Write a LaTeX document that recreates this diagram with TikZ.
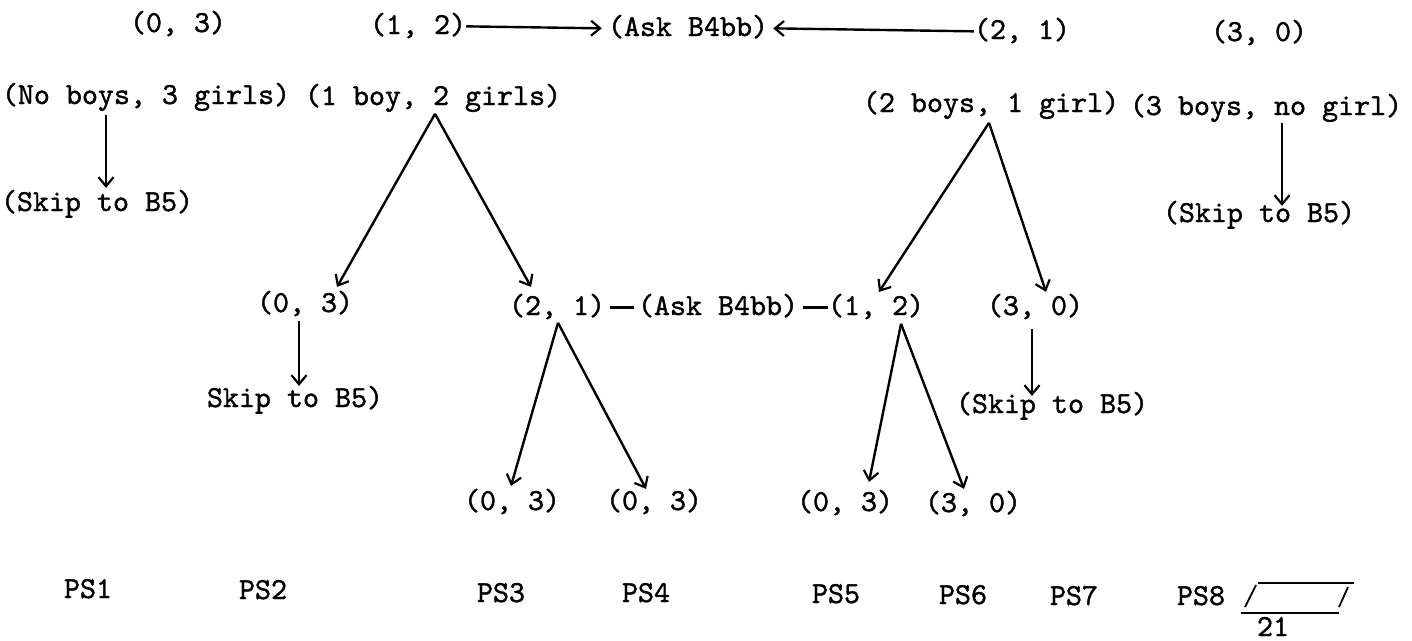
\documentclass[tikz,border=0pt]{standalone}
\usepackage{fontspec}
\usetikzlibrary{arrows.meta,calc}
\newfontfamily\typewriter[FakeBold=1.2]{lmmono10-regular.otf}
\begin{document}
\begin{tikzpicture}[x=1pt,y=-1pt,
  lbl/.style={inner sep=0pt, anchor=base, font=\typewriter\fontsize{30.5}{36}\selectfont,
              text height=22.9pt, text depth=7.6pt},
  arr/.style={line width=2.4pt, -{Straight Barb[length=9pt,width=15pt,line width=2.2pt]}},
  link/.style={line width=2.4pt},
  rule/.style={line width=1.8pt}]
\useasboundingbox (0,0) rectangle (1412,640);

% top row of pairs
\node[lbl] (ra) at (178,32) {(0, 3)};
\node[lbl] (rb) at (418,34) {(1, 2)};
\node[lbl] (ask1) at (688,36) {(Ask B4bb)};
\node[lbl] (rc) at (1022,39) {(2, 1)};
\node[lbl] (rd) at (1259,41) {(3, 0)};

% household compositions
\node[lbl] (nb) at (146,104) {(No boys, 3 girls)};
\node[lbl] (b1) at (433,105) {(1 boy, 2 girls)};
\node[lbl] (b2) at (991,112) {(2 boys, 1 girl)};
\node[lbl] (b3) at (1266,115) {(3 boys, no girl)};

\node[lbl] (skipA) at (97,211) {(Skip to B5)};
\node[lbl] (skipB) at (1259,222) {(Skip to B5)};

% second level
\node[lbl] (la) at (305,312) {(0, 3)};
\node[lbl] (lb) at (557,315) {(2, 1)};
\node[lbl] (ask2) at (718,315) {(Ask B4bb)};
\node[lbl] (lc) at (876,315) {(1, 2)};
\node[lbl] (ld) at (1035,315) {(3, 0)};

\node[lbl] (skipC) at (295,407) {Skip to B5)};
\node[lbl] (skipD) at (1052,413) {(Skip to B5)};

% third level
\node[lbl] (ma) at (512,510) {(0, 3)};
\node[lbl] (mb) at (654,510) {(0, 3)};
\node[lbl] (mc) at (845,511) {(0, 3)};
\node[lbl] (md) at (973,512) {(3, 0)};

% patterns
\node[lbl] (ps1) at (88,598) {PS1};
\node[lbl] (ps2) at (263,599) {PS2};
\node[lbl] (ps3) at (501,602) {PS3};
\node[lbl] (ps4) at (646,602) {PS4};
\node[lbl] (ps5) at (836,603) {PS5};
\node[lbl] (ps6) at (963,604) {PS6};
\node[lbl] (ps7) at (1074,605) {PS7};
\node[lbl] (ps8) at (1201,605) {PS8};
\node[lbl, text depth=0pt] (tot) at (1273,636) {21};

% answer box
\draw[rule] (1245,607) -- (1256,585);
\draw[rule] (1339,607) -- (1348,587);
\draw[rule] (1258,583) -- (1354,583);
\draw[rule] (1241,613) -- (1339,613);

% connectors, top row
\draw[arr] (rb.east) -- ([xshift=-6pt]ask1.west);
\draw[arr] (rc.west) -- ([xshift=5pt]ask1.east);

% skips from the end groups
\draw[arr] ([xshift=-40pt,yshift=-3pt]nb.south) -- ([xshift=9pt]skipA.north);
\draw[arr] ([xshift=16pt]b3.south) -- ([xshift=23pt,yshift=-7pt]skipB.north);

% first branching
\draw[arr] ([xshift=2pt,yshift=-1pt]b1.south) -- ([xshift=32pt,yshift=2pt]la.north);
\draw[arr] ([xshift=2pt,yshift=-1pt]b1.south) -- ([xshift=-26pt,yshift=5pt]lb.north);
\draw[arr] ([xshift=-2pt,yshift=-3pt]b2.south) -- ([xshift=3pt]lc.north);
\draw[arr] ([xshift=-2pt,yshift=-3pt]b2.south) -- ([xshift=11pt]ld.north);

% links to the second question
\draw[link] ([xshift=5pt]lb.east) -- ([xshift=-4pt]ask2.west);
\draw[link] ([xshift=5pt]ask2.east) -- (lc.west);

% second branching
\draw[arr] ([xshift=-6pt,yshift=-1pt]la.south) -- ([xshift=4pt,yshift=-2pt]skipC.north);
\draw[arr] ([xshift=1pt]lb.south) -- ([xshift=-1pt,yshift=1pt]ma.north);
\draw[arr] ([xshift=1pt]lb.south) -- ([xshift=-8pt,yshift=-2pt]mb.north);
\draw[arr] ([xshift=25pt,yshift=-1pt]lc.south) -- ([xshift=24pt,yshift=6pt]mc.north);
\draw[arr] ([xshift=25pt,yshift=-1pt]lc.south) -- ([xshift=-9pt]md.north);
\draw[arr] ([xshift=-3pt,yshift=-6pt]ld.south) -- ([xshift=-20pt,yshift=-6pt]skipD.north);
\end{tikzpicture}
\end{document}
